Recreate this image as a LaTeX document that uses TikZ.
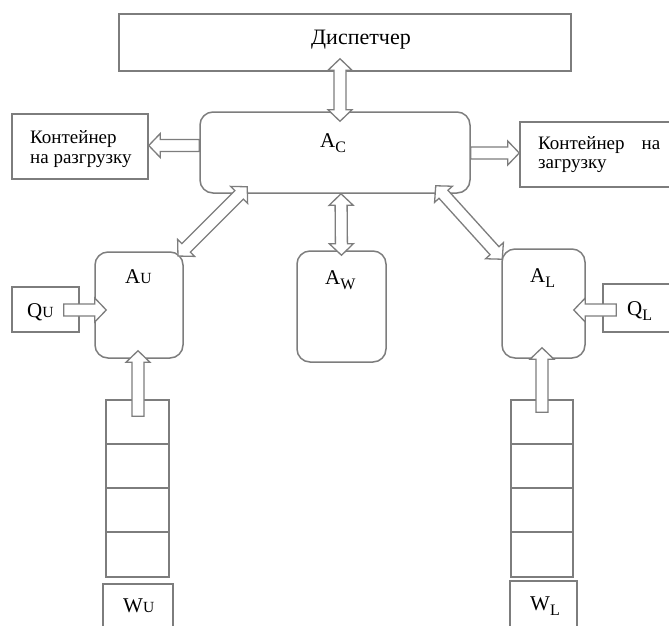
\documentclass[tikz,border=0pt]{standalone}
\usepackage{fontspec}
\setmainfont{Liberation Serif}
\usetikzlibrary{calc}
\definecolor{lc}{RGB}{125,125,125}
\tikzset{
  x=1pt, y=-1pt,
  box/.style={draw=lc, line width=1.5pt, fill=white, inner sep=0pt},
  rbox/.style={box, rounded corners=13pt},
  barrow/.style={draw=lc, line width=1.3pt, fill=white, line join=miter},
  lbl/.style={inner sep=0pt, anchor=base west, font=\fontsize{21}{21}\selectfont},
  txt/.style={inner sep=0pt, anchor=base west, font=\fontsize{19}{20}\selectfont, align=left},
}
\newcommand\subl[1]{\raisebox{-5pt}{\fontsize{16}{16}\selectfont #1}}
\newcommand\subs[1]{{\fontsize{15.5}{15.5}\selectfont #1}}
\newcommand\sarr[2]{\draw[barrow] let \p1=#1, \p2=#2,
  \n1={atan2(\y2-\y1,\x2-\x1)}, \n2={veclen(\x2-\x1,\y2-\y1)} in
  [shift={(\p1)}, rotate=\n1]
  (0,-6) -- (\n2-11.5,-6) -- (\n2-11.5,-12) -- (\n2,0) -- (\n2-11.5,12)
  -- (\n2-11.5,6) -- (0,6) -- cycle;}
\newcommand\darr[2]{\draw[barrow] let \p1=#1, \p2=#2,
  \n1={atan2(\y2-\y1,\x2-\x1)}, \n2={veclen(\x2-\x1,\y2-\y1)} in
  [shift={(\p1)}, rotate=\n1]
  (0,0) -- (11.5,-12) -- (11.5,-6) -- (\n2-11.5,-6) -- (\n2-11.5,-12) -- (\n2,0)
  -- (\n2-11.5,12) -- (\n2-11.5,6) -- (11.5,6) -- (11.5,12) -- cycle;}
\begin{document}
\begin{tikzpicture}
\useasboundingbox (0,0) rectangle (669,625);
% boxes
\node[box, minimum width=452, minimum height=57] (disp) at (345,42.5) {};
\node[inner sep=0pt, anchor=base, font=\fontsize{22}{22}\selectfont] (disptxt) at (361,44) {Диспетчер};
\node[rbox, minimum width=270, minimum height=81] (AC) at (335,152.5) {};
\node[lbl] (ACt) at (320,147) {A\subl{C}};
\node[box, minimum width=136, minimum height=65] (CU) at (80,146.5) {};
\node[txt] (CUt) at (30,163) {Контейнер\\на разгрузку};
\node[box, minimum width=170, minimum height=65] (CL) at (605,154.5) {};
\node[txt, font=\fontsize{19}{19}\selectfont] (CLt) at (538,168) {\makebox[122pt][s]{Контейнер\hfill на}\\загрузку};
\node[rbox, minimum width=88, minimum height=106] (AU) at (139,305) {};
\node[lbl] (AUt) at (125,283) {A\subs{U}};
\node[rbox, minimum width=89, minimum height=111] (AW) at (341.5,306.5) {};
\node[lbl] (AWt) at (325,284) {A\subl{W}};
\node[rbox, minimum width=83, minimum height=109] (AL) at (543.5,303.5) {};
\node[lbl] (ALt) at (530,282) {A\subl{L}};
\node[box, minimum width=67, minimum height=45] (QU) at (45.5,309.5) {};
\node[lbl] (QUt) at (27,317) {Q\subs{U}};
\node[box, minimum width=87, minimum height=48] (QL) at (646.5,308) {};
\node[lbl] (QLt) at (627,315) {Q\subl{L}};
% stacks
\foreach \i/\a/\b in {1/400/444,2/444/488,3/488/532,4/532/577}{
  \node[box, minimum width=63, minimum height=\b-\a] (SU\i) at (137.5,{(\a+\b)/2}) {};
  \node[box, minimum width=62, minimum height=\b-\a] (SL\i) at (542,{(\a+\b)/2}) {};
}
\node[box, minimum width=70, minimum height=60] (WU) at (138,614) {};
\node[lbl] (WUt) at (123,612) {W\subs{U}};
\node[box, minimum width=67, minimum height=60] (WL) at (543.5,611) {};
\node[lbl] (WLt) at (530,610) {W\subl{L}};
% arrows
\darr{($(disp.south)+(-5,-13)$)}{($(AC.north)+(5,10)$)}
\darr{($(AC.south)+(6,0)$)}{($(AW.north)+(0,5)$)}
\darr{($(AC.south west)+(48,-7)$)}{($(AU.north east)+(-6,5)$)}
\darr{($(AC.south east)+(-35,-8)$)}{($(AL.north west)+(1,11)$)}
\sarr{($(AC.west)+(0,-7)$)}{($(CU.east)+(0,-1)$)}
\sarr{($(AC.east)+(0,0.5)$)}{($(CL.west)+(0,-1.5)$)}
\sarr{($(QU.east)+(-16,0.5)$)}{($(AU.west)+(12,5)$)}
\sarr{($(QL.west)+(14,2)$)}{($(AL.east)+(-12,6.5)$)}
\sarr{($(SU1.north)+(0.5,17)$)}{($(AU.south)+(-1,-8)$)}
\sarr{($(SL1.north)+(0,13)$)}{($(AL.south)+(-1.5,-11)$)}
\end{tikzpicture}
\end{document}
